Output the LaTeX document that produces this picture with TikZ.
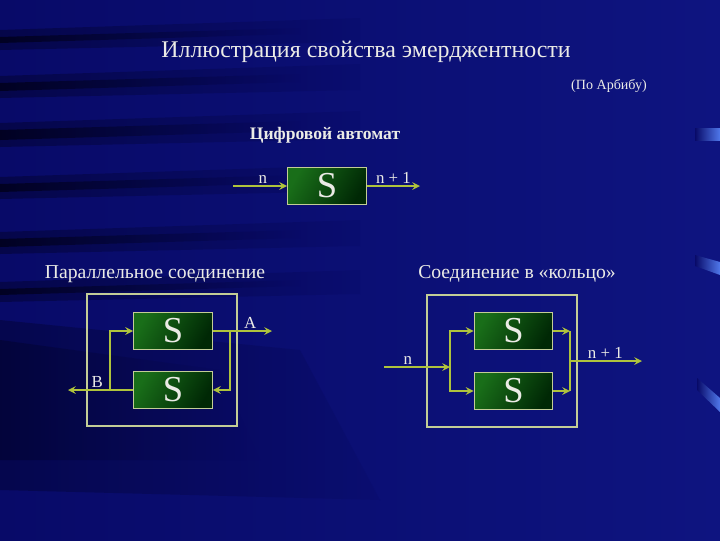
\documentclass[tikz,border=0pt]{standalone}
\usepackage{fontspec}
\setmainfont{Liberation Serif}
\usetikzlibrary{arrows,positioning}
\definecolor{bgblue}{RGB}{8,10,104}
\definecolor{bgright}{RGB}{14,20,128}
\definecolor{bgdark}{RGB}{0,0,18}
\definecolor{bglight}{RGB}{80,120,235}
\definecolor{sgreen}{RGB}{25,110,25}
\definecolor{sdark}{RGB}{0,40,5}
\definecolor{sedge}{RGB}{195,205,150}
\definecolor{sline}{RGB}{175,195,60}
\definecolor{stext}{RGB}{235,235,230}
\tikzstyle{arrow} = [line width=1.4pt,->,>=stealth,color=sline]
\tikzstyle{wire} = [line width=1.4pt,color=sline]
\tikzstyle{sbox} = [draw=sedge, line width=0.8pt, left color=sgreen, right color=sdark, shading angle=60,
    minimum width=1.97cm, minimum height=0.93cm, inner sep=0pt, text=stext, font=\fontsize{26}{28}\selectfont]
\tikzstyle{frame} = [draw=sedge, line width=0.8pt, inner sep=0pt]
\tikzstyle{lbl} = [text=stext, font=\fontsize{12}{14}\selectfont, inner sep=1pt]
\tikzstyle{ptitle} = [text=stext, font=\fontsize{14}{16}\selectfont]

\begin{document}
\begin{tikzpicture}[x=0.025cm, y=-0.025cm]
\useasboundingbox (0,0) rectangle (720,540);
% Background
\shade[left color=bgblue, right color=bgright] (0,0) rectangle (720,540);
\foreach \y/\w in {40/5, 87/6, 135/7, 188/6, 243/6, 292/5} {
    \shade[left color=bgdark, right color=bgblue, opacity=0.35]
        (0,\y-\w-5) -- (360,\y-\w-17) -- (360,\y+\w-3) -- (0,\y+\w+5) -- cycle;
    \shade[left color=bgdark, right color=bgblue, opacity=0.7]
        (0,\y-\w+2) -- (300,\y-\w-7) -- (300,\y+\w-11) -- (0,\y+\w-2) -- cycle;
}
\shade[left color=bgdark, right color=bgblue, opacity=0.3]
    (0,320) -- (300,350) -- (380,500) -- (0,490) -- cycle;
\shade[left color=bgdark, right color=bgblue, opacity=0.3]
    (0,340) -- (220,370) -- (260,460) -- (0,460) -- cycle;
\shade[left color=bgblue, right color=bglight] (695,128) rectangle (720,140);
\shade[left color=bgblue, right color=bglight] (695,255) -- (720,262) -- (720,275) -- (695,266) -- cycle;
\shade[left color=bgblue, right color=bglight] (697,378) -- (720,398) -- (720,412) -- (697,390) -- cycle;

% Titles
\node[text=stext, font=\fontsize{17}{20}\selectfont] (title) at (366,52) {Иллюстрация свойства эмерджентности};
\node[text=stext, font=\fontsize{10}{12}\selectfont] (source) at (609,86) {(По Арбибу)};
\node[text=stext, font=\bfseries\fontsize{12.5}{15}\selectfont] (automat) at (325,135) {Цифровой автомат};

% Single automaton
\node[sbox] (s0) at (327,186) {S};
\coordinate (in0) at (233,186);
\coordinate (out0) at (420,186);
\draw[arrow] (in0) -- node[lbl, above, pos=0.55] (lab0) {n} (s0.west);
\draw[arrow] (s0.east) -- node[lbl, above] (lab1) {n + 1} (out0);

% Parallel connection
\node[ptitle] (partitle) at (155,274) {Параллельное соединение};
\node[frame, minimum width=3.75cm, minimum height=3.3cm] (pframe) at (162,360) {};
\node[sbox] (p1) at (173,331) {S};
\node[sbox] (p2) at (173,390) {S};
\coordinate (pA) at (272,331);
\coordinate (pB) at (68,390);
\coordinate (pR) at (230,331);
\coordinate (pL) at (110,390);
\draw[arrow] (p1.east) -- node[lbl, above, pos=0.63] (labA) {A} (pA);
\draw[arrow] (pR) |- (p2.east);
\draw[arrow] (p2.west) -- node[lbl, above, pos=0.55] (labB) {B} (pB);
\draw[arrow] (pL) |- (p1.west);

% Ring connection
\node[ptitle] (ringtitle) at (517,274) {Соединение в «кольцо»};
\node[frame, minimum width=3.75cm, minimum height=3.3cm] (rframe) at (502,361) {};
\node[sbox] (r1) at (513.5,331) {S};
\node[sbox] (r2) at (513.5,391) {S};
\coordinate (rin) at (384,367);
\coordinate (rsplit) at (450,367);
\coordinate (rj1) at (570,331);
\coordinate (rj2) at (570,391);
\coordinate (rjoin) at (570,361);
\coordinate (rout) at (642,361);
\draw[arrow] (rin) -- node[lbl, above, pos=0.36] (labn) {n} (rsplit);
\draw[arrow] (rsplit) |- (r1.west);
\draw[arrow] (rsplit) |- (r2.west);
\draw[arrow] (r1.east) -- (rj1);
\draw[arrow] (r2.east) -- (rj2);
\draw[wire] (rj1) -- (rj2);
\draw[arrow] (rjoin) -- node[lbl, above, pos=0.49] (labn1) {n + 1} (rout);
\end{tikzpicture}
\end{document}
